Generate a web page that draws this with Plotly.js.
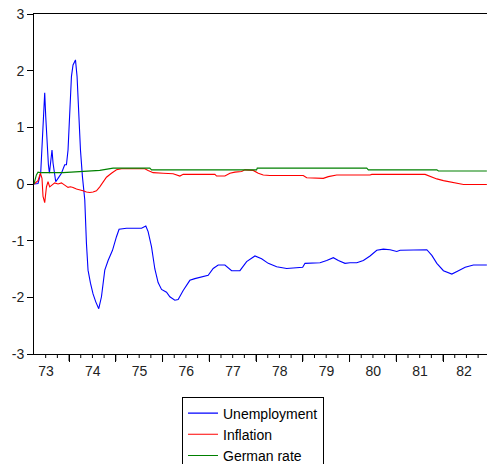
<!DOCTYPE html>
<html>
<head>
<meta charset="utf-8">
<script src="https://cdn.plot.ly/plotly-3.0.1.min.js"></script>
<style>html,body{margin:0;padding:0;background:#fff;}#chart{width:487px;height:464px;}</style>
</head>
<body>
<div id="chart"></div>
<script>
// time in decimal years
var unempT = [1973.250,1973.336,1973.393,1973.430,1973.458,1973.479,1973.501,1973.528,1973.558,1973.580,1973.608,1973.635,1973.657,1973.678,1973.715,1973.764,1973.837,1973.907,1973.944,1973.978,1974.014,1974.051,1974.085,1974.137,1974.171,1974.207,1974.244,1974.286,1974.321,1974.336,1974.372,1974.406,1974.458,1974.513,1974.571,1974.635,1974.693,1974.764,1974.835,1974.929,1975.014,1975.070,1975.229,1975.550,1975.642,1975.691,1975.764,1975.835,1975.905,1975.978,1976.085,1976.156,1976.263,1976.334,1976.441,1976.584,1976.691,1976.835,1976.976,1977.083,1977.190,1977.334,1977.477,1977.655,1977.798,1977.976,1978.119,1978.261,1978.441,1978.655,1978.869,1978.997,1979.047,1979.368,1979.511,1979.653,1979.760,1979.903,1980.010,1980.154,1980.295,1980.438,1980.582,1980.723,1980.867,1981.010,1981.081,1981.366,1981.580,1981.653,1981.760,1981.867,1982.008,1982.188,1982.329,1982.473,1982.650,1982.757,1982.937];
var unempV = [0,0.01,0.19,0.84,1.34,1.61,1.19,0.66,0.34,0.19,0.48,0.60,0.37,0.25,0.04,0.10,0.19,0.34,0.34,0.60,1.19,1.90,2.10,2.19,1.90,1.19,0.60,0.13,-0.16,-0.28,-1.05,-1.52,-1.75,-1.94,-2.08,-2.20,-1.99,-1.52,-1.35,-1.17,-0.93,-0.80,-0.78,-0.78,-0.74,-0.84,-1.11,-1.50,-1.74,-1.86,-1.91,-1.99,-2.05,-2.04,-1.88,-1.70,-1.67,-1.64,-1.61,-1.49,-1.43,-1.43,-1.53,-1.53,-1.37,-1.27,-1.32,-1.40,-1.46,-1.49,-1.47,-1.47,-1.40,-1.39,-1.35,-1.30,-1.35,-1.40,-1.39,-1.39,-1.35,-1.27,-1.17,-1.15,-1.16,-1.19,-1.17,-1.17,-1.17,-1.16,-1.26,-1.40,-1.53,-1.59,-1.53,-1.47,-1.43,-1.43,-1.43];

var inflT = [1973.250,1973.336,1973.387,1973.421,1973.443,1973.479,1973.516,1973.550,1973.586,1973.623,1973.693,1973.764,1973.837,1973.907,1973.978,1974.029,1974.085,1974.158,1974.229,1974.299,1974.372,1974.443,1974.513,1974.586,1974.657,1974.728,1974.800,1974.907,1975.014,1975.122,1975.620,1975.691,1975.798,1976.012,1976.226,1976.370,1976.441,1977.119,1977.156,1977.334,1977.441,1977.548,1977.691,1977.762,1977.940,1978.047,1978.154,1978.297,1979.010,1979.083,1979.438,1979.546,1979.725,1980.438,1980.475,1981.616,1981.723,1981.867,1982.008,1982.222,1982.436,1982.937];
var inflV = [0,0.06,0.19,0.10,-0.22,-0.33,-0.05,0.04,-0.05,-0.02,0.02,0.00,0.02,-0.02,-0.06,-0.05,-0.06,-0.09,-0.10,-0.12,-0.14,-0.15,-0.14,-0.12,-0.05,0.04,0.12,0.19,0.25,0.27,0.27,0.24,0.20,0.19,0.18,0.14,0.17,0.17,0.14,0.14,0.19,0.21,0.22,0.25,0.24,0.19,0.16,0.15,0.15,0.11,0.10,0.13,0.16,0.16,0.17,0.17,0.13,0.09,0.06,0.02,-0.01,-0.01];

var germT = [1973.250,1973.301,1973.336,1973.408,1973.871,1974.229,1974.657,1974.942,1975.728,1975.764,1978.012,1978.025,1980.368,1980.402,1981.867,1981.901,1982.937];
var germV = [0,0.16,0.21,0.20,0.20,0.22,0.24,0.28,0.28,0.25,0.25,0.28,0.28,0.25,0.25,0.23,0.23];

// year labels sit mid-year: each label is attached to the next year boundary and shifted half a year left
var xRange = [1973.25, 1982.94];
var labelTicks = [1974,1975,1976,1977,1978,1979,1980,1981,1982,1982.94];
var yearLabels = ['73','74','75','76','77','78','79','80','81','82'];
var yearBounds = [1974,1975,1976,1977,1978,1979,1980,1981,1982];
var yTicks = [-3,-2,-1,0,1,2,3];
var yTickText = ['-3','-2','-1','0','1','2','3'];

var fontFam = 'Liberation Sans, Arial, sans-serif';

// axis tick decoration: quarterly short ticks, yearly long ticks, placed from the axis range
var PLOT_H = 464 - 14 - 110;
var tickShapes = [];
for (var k = 1; k * 0.25 + 1973.25 < xRange[1]; k++) {
  var tq = 1973.25 + k * 0.25;
  var isYear = Math.abs(tq - Math.round(tq)) < 1e-6;
  var px = (tq - xRange[0]) / (xRange[1] - xRange[0]);
  tickShapes.push({type: 'line', xref: 'paper', yref: 'paper', layer: 'above',
    x0: px, x1: px, y0: 0, y1: -(isYear ? 7 : 4) / PLOT_H,
    line: {color: '#000000', width: 1}});
}

var traces = [
  {x: unempT, y: unempV, name: 'Unemployment', mode: 'lines', line: {color: '#0000ff', width: 1.1}},
  {x: inflT, y: inflV, name: 'Inflation', mode: 'lines', line: {color: '#ff0000', width: 1.1}},
  {x: germT, y: germV, name: 'German rate', mode: 'lines', xaxis: 'x2', yaxis: 'y', line: {color: '#008000', width: 1.1}}
];

var layout = {
  width: 487, height: 464,
  margin: {l: 34, r: 0, t: 14, b: 110, autoexpand: false},
  paper_bgcolor: '#fff', plot_bgcolor: '#fff',
  showlegend: true,
  font: {family: fontFam, size: 14, color: '#222'},
  shapes: tickShapes,
  xaxis: {
    range: xRange.slice(), showgrid: false, zeroline: false,
    showline: true, linecolor: '#000', linewidth: 1, mirror: true,
    tickmode: 'array', tickvals: yearBounds,
    ticks: 'outside', ticklen: 7, tickcolor: '#000', tickwidth: 1,
    showticklabels: false
  },
  xaxis2: {
    range: xRange.slice(), overlaying: 'x', anchor: 'y', side: 'bottom',
    showgrid: false, zeroline: false, showline: false,
    tickmode: 'array', tickvals: labelTicks, ticktext: yearLabels,
    ticks: 'outside', ticklen: 4, tickcolor: 'rgba(0,0,0,0)',
    ticklabelshift: -23,
    tickfont: {family: fontFam, size: 14, color: '#222'}
  },
  yaxis: {
    range: [-3, 3], showgrid: false, zeroline: false,
    showline: true, linecolor: '#000', linewidth: 1,
    tickmode: 'array', tickvals: yTicks, ticktext: yTickText,
    ticks: 'outside', ticklen: 6, tickcolor: '#000',
    tickfont: {family: fontFam, size: 14, color: '#222'}
  },
  legend: {
    x: 0.3267, y: -0.125, xanchor: 'left', yanchor: 'top',
    bordercolor: '#000', borderwidth: 1, bgcolor: '#fff',
    font: {family: fontFam, size: 14, color: '#000'},
    itemwidth: 30, tracegroupgap: 0
  }
};

Plotly.newPlot('chart', traces, layout, {displayModeBar: false, staticPlot: true});
</script>
</body>
</html>
